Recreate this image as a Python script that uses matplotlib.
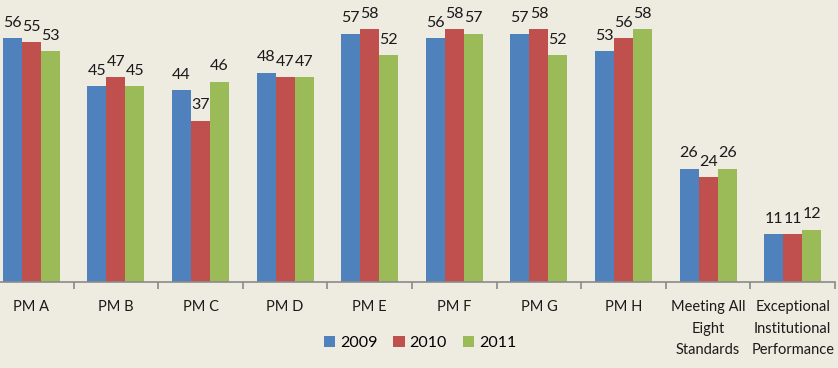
import numpy as np
import matplotlib.pyplot as plt

plt.rcParams['font.family'] = ['Lato', 'DejaVu Sans']

categories = ['PM A', 'PM B', 'PM C', 'PM D', 'PM E', 'PM F', 'PM G', 'PM H',
              'Meeting All\nEight\nStandards',
              'Exceptional\nInstitutional\nPerformance']
years = ['2009', '2010', '2011']
vals_2009 = [56, 45, 44, 48, 57, 56, 57, 53, 26, 11]
vals_2010 = [55, 47, 37, 47, 58, 58, 58, 56, 24, 11]
vals_2011 = [53, 45, 46, 47, 52, 57, 52, 58, 26, 12]
colors = ['#4F81BD', '#C0504D', '#9BBB59']

bg = '#EEECE1'
fig = plt.figure(figsize=(8.38, 3.68), dpi=100, facecolor=bg)
# plot area is cropped slightly on the left like the reference
ax = fig.add_axes([-11 / 838, 86 / 368, 846 / 838, 282 / 368])
ax.set_facecolor(bg)

x = np.arange(len(categories))
w = 0.225
series = [vals_2009, vals_2010, vals_2011]
for i, (vals, col, yr) in enumerate(zip(series, colors, years)):
    bars = ax.bar(x + (i - 1) * w, vals, w, color=col, label=yr, zorder=2)
    for b, v in zip(bars, vals):
        ax.annotate(str(v), (b.get_x() + b.get_width() / 2, v),
                    xytext=(0, 6), textcoords='offset points',
                    ha='center', va='bottom', fontsize=11.5, color='#1a1a1a')

ax.set_xlim(-0.5, len(categories) - 0.5)
ax.set_ylim(0, 64.7)
ax.set_yticks([])
for s in ['left', 'right', 'top']:
    ax.spines[s].set_visible(False)
ax.spines['bottom'].set_color('#8a8a8a')
ax.spines['bottom'].set_linewidth(1.2)

ax.set_xticks(x)
ax.set_xticklabels(categories, fontsize=10.5, color='#1a1a1a', linespacing=1.7)
ax.tick_params(axis='x', which='major', length=0, pad=13)
ax.set_xticks(np.arange(len(categories)) + 0.5, minor=True)
ax.tick_params(axis='x', which='minor', length=5, color='#8a8a8a', width=1.2)

fig.legend(loc='center', bbox_to_anchor=(420 / 838, 1 - 343 / 368), ncol=3,
           frameon=False, fontsize=11.5, handlelength=0.7, handleheight=0.7,
           handletextpad=0.3, columnspacing=1.0)

fig.savefig('out.png', dpi=100, facecolor=bg)
